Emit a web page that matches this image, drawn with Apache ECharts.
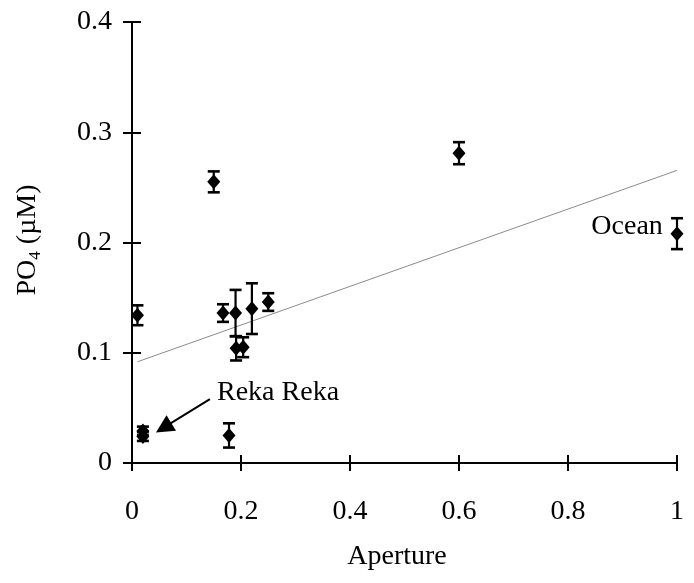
<!DOCTYPE html>
<html>
<head>
<meta charset="utf-8">
<script src="https://cdn.jsdelivr.net/npm/echarts@6/dist/echarts.min.js"></script>
<style>html,body{margin:0;padding:0;background:#fff;}#c{width:694px;height:583px;}</style>
</head>
<body>
<div id="c"></div>
<script>
// Data: [aperture, PO4 (µM), error]
var points = [
  [0.010, 0.134, 0.009],
  [0.020, 0.029, 0.004],
  [0.020, 0.024, 0.004],
  [0.150, 0.255, 0.0095],
  [0.167, 0.136, 0.008],
  [0.190, 0.136, 0.021],
  [0.191, 0.104, 0.011],
  [0.204, 0.105, 0.009],
  [0.220, 0.140, 0.023],
  [0.250, 0.146, 0.008],
  [0.178, 0.025, 0.011],
  [0.600, 0.281, 0.010],
  [1.000, 0.208, 0.014]
];
var trendLine = [[0.01, 0.0918], [1.0, 0.2654]];
var xTicks = [0, 0.2, 0.4, 0.6, 0.8, 1];
var yTicks = [0, 0.1, 0.2, 0.3, 0.4];
var annotations = [
  {name: 'Reka Reka', value: [0.156, 0.064], pos: 'right'},
  {name: 'Ocean', value: [0.974, 0.214], pos: 'left'}
];
var arrowCoords = [[0.143, 0.058], [0.058, 0.032]];

var FONT = '"Liberation Serif", "Times New Roman", serif';
var chart = echarts.init(document.getElementById('c'), null, {renderer: 'canvas'});

function fmt(v) { return String(+v.toFixed(1)); }

var axisCommon = {
  min: 0,
  axisLine: {show: true, lineStyle: {color: '#000', width: 2}},
  splitLine: {show: false}
};

var option = {
  backgroundColor: '#fff',
  animation: false,
  grid: {left: 132, right: 17, top: 22, bottom: 120, containLabel: false},
  xAxis: [
    Object.assign({}, axisCommon, {
      type: 'value', max: 1, interval: 0.2, position: 'bottom',
      axisTick: {show: true, length: 8, lineStyle: {color: '#000', width: 2}},
      axisLabel: {show: true, margin: 35, color: '#000', fontFamily: FONT, fontSize: 28,
        formatter: function (v) { return xTicks.indexOf(+v.toFixed(1)) >= 0 ? fmt(v) : ''; }},
      name: 'Aperture', nameLocation: 'middle', nameGap: 80,
      nameTextStyle: {color: '#000', fontFamily: FONT, fontSize: 28, padding: [0, 15, 0, 0]}
    }),
    Object.assign({}, axisCommon, {
      type: 'value', max: 1, interval: 0.2, position: 'bottom',
      axisLine: {show: false},
      axisTick: {show: true, inside: true, length: 8, lineStyle: {color: '#000', width: 2}},
      axisLabel: {show: false}
    })
  ],
  yAxis: [
    Object.assign({}, axisCommon, {
      type: 'value', max: 0.4, interval: 0.1, position: 'left',
      axisTick: {show: true, length: 9, lineStyle: {color: '#000', width: 2}},
      axisLabel: {show: true, margin: 20, color: '#000', fontFamily: FONT, fontSize: 28,
        formatter: function (v) { return yTicks.indexOf(+v.toFixed(1)) >= 0 ? fmt(v) : ''; }}
    }),
    Object.assign({}, axisCommon, {
      type: 'value', max: 0.4, interval: 0.1, position: 'left',
      axisLine: {show: false},
      axisTick: {show: true, inside: true, length: 9, lineStyle: {color: '#000', width: 2}},
      axisLabel: {show: false}
    })
  ],
  series: [
    {
      type: 'line', data: trendLine, symbol: 'none', silent: true,
      lineStyle: {color: '#8c8c8c', width: 1}, z: 1
    },
    {
      type: 'custom', data: points, z: 3,
      renderItem: function (params, api) {
        var x = api.value(0), y = api.value(1), e = api.value(2);
        var top = api.coord([x, y + e]);
        var bot = api.coord([x, y - e]);
        var hw = 6;
        var st = {stroke: '#000', lineWidth: 2.2, fill: null};
        return {type: 'group', children: [
          {type: 'line', shape: {x1: top[0], y1: top[1], x2: bot[0], y2: bot[1]}, style: st},
          {type: 'line', shape: {x1: top[0] - hw, y1: top[1], x2: top[0] + hw, y2: top[1]}, style: {stroke: '#000', lineWidth: 2.6}},
          {type: 'line', shape: {x1: bot[0] - hw, y1: bot[1], x2: bot[0] + hw, y2: bot[1]}, style: {stroke: '#000', lineWidth: 2.6}}
        ]};
      }
    },
    {
      type: 'scatter', data: points.map(function (p) { return [p[0], p[1]]; }),
      symbol: 'diamond', symbolSize: [13, 15], itemStyle: {color: '#000', opacity: 1}, z: 4
    },
    {
      type: 'scatter', symbolSize: 0, z: 5, itemStyle: {opacity: 1},
      data: annotations.map(function (a) {
        return {name: a.name, value: a.value,
          label: {show: true, position: a.pos, distance: 0, formatter: '{b}',
            color: '#000', opacity: 1, fontFamily: FONT, fontSize: 28}};
      })
    },
    {
      type: 'lines', coordinateSystem: 'cartesian2d', z: 5,
      symbol: ['none', 'triangle'], symbolSize: [16, 18],
      lineStyle: {color: '#000', width: 2, opacity: 1},
      itemStyle: {color: '#000'},
      data: [{coords: arrowCoords}]
    }
  ],
  graphic: [
    {
      type: 'text', x: 28, y: 240, rotation: Math.PI / 2,
      style: {
        text: '{a|PO}{s|4}{a| (µM)}',
        align: 'center', verticalAlign: 'middle',
        rich: {
          a: {fontFamily: FONT, fontSize: 28, fill: '#000', lineHeight: 32},
          s: {fontFamily: FONT, fontSize: 17, fill: '#000', lineHeight: 22, verticalAlign: 'bottom'}
        }
      }
    }
  ]
};
chart.setOption(option);
</script>
</body>
</html>
